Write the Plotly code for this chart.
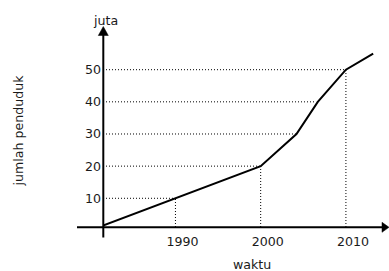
import plotly.graph_objects as go

# data
years = [1981.5, 1990, 2000, 2004.2, 2006.7, 2010, 2013.2]
population = [1.5, 10, 20, 30, 40, 50, 55]
y_ticks = [10, 20, 30, 40, 50]
x_ticks = [1990, 2000, 2010]
x_tick_labels = ["1990", "2000", "2010"]
# dotted guide points: (year, value)
h_guides = [(1990, 10), (2000, 20), (2004.2, 30), (2006.5, 40), (2010, 50)]
v_guides = [(1990, 10), (2000, 20), (2010, 50)]

W, H = 389, 271
L, R, T, B = 103, 9, 35, 44
XR = [1981.5, 2014.0]
YR = [1.07, 60.79]

FONT = "DejaVu Sans"
FS = 12.6
TXT = "#1a1a1a"

def px_x(p):
    return (p - L) / (W - L - R)

def px_y(p):
    return (H - B - p) / (H - T - B)

fig = go.Figure()

dot = dict(color="black", width=1, dash="1px,2px")
for (yr, v) in h_guides:
    fig.add_trace(go.Scatter(x=[XR[0], yr], y=[v, v], mode="lines", line=dot,
                             hoverinfo="skip", showlegend=False))
for (yr, v) in v_guides:
    fig.add_trace(go.Scatter(x=[yr, yr], y=[YR[0], v], mode="lines", line=dot,
                             hoverinfo="skip", showlegend=False))

fig.add_trace(go.Scatter(x=years, y=population, mode="lines",
                         line=dict(color="black", width=2), showlegend=False))

shapes = [
    # y axis line
    dict(type="line", xref="paper", yref="paper", x0=px_x(103.3), x1=px_x(103.3),
         y0=px_y(237.5), y1=px_y(34), line=dict(color="black", width=2)),
    # x axis line
    dict(type="line", xref="paper", yref="paper", x0=px_x(77), x1=px_x(383),
         y0=px_y(227.3), y1=px_y(227.3), line=dict(color="black", width=2)),
    # y arrow
    dict(type="path", xref="paper", yref="paper",
         path=f"M {px_x(98.3)} {px_y(35.5)} L {px_x(108.3)} {px_y(35.5)} L {px_x(103.3)} {px_y(26.5)} Z",
         fillcolor="black", line=dict(color="black", width=0.5)),
    # x arrow
    dict(type="path", xref="paper", yref="paper",
         path=f"M {px_x(382)} {px_y(222.3)} L {px_x(382)} {px_y(232.3)} L {px_x(389)} {px_y(227.3)} Z",
         fillcolor="black", line=dict(color="black", width=0.5)),
]

annotations = [
    dict(text="juta", x=px_x(105), y=px_y(21), xref="paper", yref="paper",
         showarrow=False, xanchor="center", yanchor="middle",
         font=dict(family=FONT, size=FS, color=TXT)),
    dict(text="jumlah penduduk", x=px_x(17.5), y=px_y(131), xref="paper", yref="paper",
         showarrow=False, xanchor="center", yanchor="middle", textangle=-90,
         font=dict(family=FONT, size=FS, color=TXT)),
    dict(text="waktu", x=px_x(252), y=px_y(264), xref="paper", yref="paper",
         showarrow=False, xanchor="center", yanchor="middle",
         font=dict(family=FONT, size=FS, color=TXT)),
]

fig.update_layout(
    width=W, height=H,
    margin=dict(l=L, r=R, t=T, b=B),
    paper_bgcolor="white", plot_bgcolor="white",
    shapes=shapes, annotations=annotations,
    xaxis=dict(range=XR, tickvals=x_ticks, ticktext=x_tick_labels,
               showgrid=False, zeroline=False, showline=False,
               ticks="", ticklabelshift=7, ticklabelstandoff=5,
               tickfont=dict(family=FONT, size=FS, color=TXT)),
    yaxis=dict(range=YR, tickvals=y_ticks, showgrid=False, zeroline=False,
               showline=False, ticks="", ticklabelstandoff=1,
               tickfont=dict(family=FONT, size=FS, color=TXT)),
)

fig.write_html("out.html", config={"displayModeBar": False},
               post_script="document.body.style.margin='0';document.body.style.overflow='hidden';")
